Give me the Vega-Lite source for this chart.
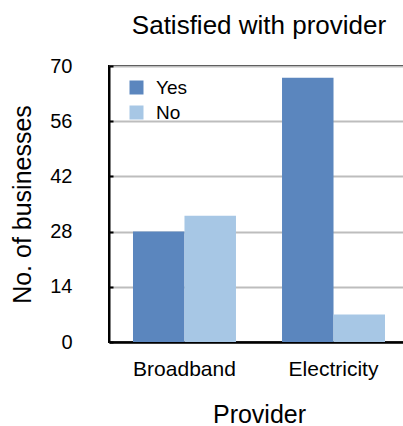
{
  "$schema": "https://vega.github.io/schema/vega-lite/v6.json",
  "autosize": "none",
  "width": 300,
  "height": 276,
  "padding": {"left": 109, "top": 66, "right": 0, "bottom": 84},
  "background": "white",
  "config": {
    "font": "Liberation Sans",
    "view": {"stroke": "black", "strokeWidth": 2},
    "axis": {"labelColor": "black", "titleColor": "black", "titleFontWeight": "normal"}
  },
  "title": {
    "text": "Satisfied with provider",
    "fontSize": 26,
    "fontWeight": "normal",
    "color": "black",
    "frame": "group",
    "baseline": "alphabetic",
    "offset": 30,
    "dy": 34
  },
  "data": {
    "values": [
      {"Provider": "Broadband", "Satisfied": "Yes", "Count": 28},
      {"Provider": "Broadband", "Satisfied": "No", "Count": 32},
      {"Provider": "Electricity", "Satisfied": "Yes", "Count": 67},
      {"Provider": "Electricity", "Satisfied": "No", "Count": 7}
    ]
  },
  "mark": {"type": "bar"},
  "encoding": {
    "x": {
      "field": "Provider",
      "type": "nominal",
      "scale": {"paddingInner": 0.309, "paddingOuter": 0.161},
      "axis": {
        "title": "Provider",
        "titleFontSize": 25,
        "titleBaseline": "alphabetic",
        "titleY": 80,
        "labelAngle": 0,
        "labelFontSize": 21,
        "labelPadding": 16,
        "ticks": false,
        "domainColor": "black",
        "domainWidth": 2.5
      }
    },
    "xOffset": {
      "field": "Satisfied",
      "type": "nominal",
      "sort": ["Yes", "No"],
      "scale": {"paddingInner": 0, "paddingOuter": 0}
    },
    "y": {
      "field": "Count",
      "type": "quantitative",
      "scale": {"domain": [0, 70], "nice": false},
      "axis": {
        "title": "No. of businesses",
        "titleFontSize": 25,
        "titleBaseline": "alphabetic",
        "titleX": -79,
        "values": [0, 14, 28, 42, 56, 70],
        "labelFontSize": 20,
        "labelPadding": 41,
        "tickSize": -4,
        "tickColor": "black",
        "tickWidth": 2,
        "domainColor": "black",
        "domainWidth": 2,
        "gridColor": "#bdbdbd",
        "gridWidth": 2
      }
    },
    "color": {
      "field": "Satisfied",
      "type": "nominal",
      "scale": {"domain": ["Yes", "No"], "range": ["#5b86be", "#a7c7e5"]},
      "legend": {
        "title": null,
        "orient": "none",
        "legendX": 18,
        "legendY": 12,
        "padding": 0,
        "symbolType": "square",
        "symbolSize": 196,
        "symbolStrokeWidth": 0,
        "labelFontSize": 19,
        "labelColor": "black",
        "labelOffset": 10,
        "rowPadding": 5
      }
    }
  }
}
